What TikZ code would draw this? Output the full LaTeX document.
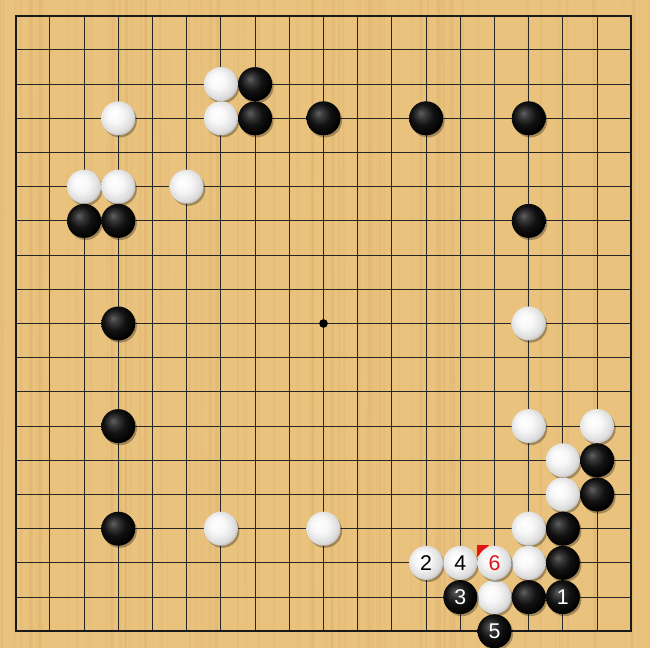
\documentclass[tikz,border=0pt]{standalone}
\usepackage{fontspec}
\setmainfont{Liberation Sans}
\usetikzlibrary{shadows}
\definecolor{boardcol}{RGB}{233,194,126}
\definecolor{graincol}{RGB}{196,150,80}
\definecolor{numred}{RGB}{226,20,20}
\pgfdeclareradialshading{whitestone}{\pgfpoint{-7bp}{7bp}}{color(0bp)=(white); color(12bp)=(white!97!black); color(24bp)=(white!87!black); color(31bp)=(white!72!black); color(50bp)=(white!72!black)}
\pgfdeclareradialshading{blackstone}{\pgfpoint{-8bp}{8bp}}{color(0bp)=(black!62); color(7bp)=(black!78); color(16bp)=(black!93); color(28bp)=(black); color(50bp)=(black)}
\tikzset{
  stonebase/.style={circle, inner sep=0pt, minimum size=25.5pt, draw=none,
    font=\fontsize{16}{17}\selectfont,
    drop shadow={shadow xshift=1.2pt, shadow yshift=-1.6pt, opacity=0.3, fill=black}},
  wstone/.style={stonebase, shading=whitestone, text=black},
  bstone/.style={stonebase, shading=blackstone, text=white},
  gridline/.style={line width=0.85pt, draw=black!85},
}
\newcommand{\gp}[2]{({15.7+#1*34.2},{15.7+#2*34.2})}
\begin{document}
\begin{tikzpicture}[x=0.75pt,y=-0.75pt]
\fill[boardcol] (0,0) rectangle (650,648);
\useasboundingbox (0,0) rectangle (650,648);
% wood grain
\pgfmathsetseed{11}
\foreach \i in {1,...,90} {
  \pgfmathsetmacro\gxx{rnd*650}
  \pgfmathsetmacro\gop{0.04+rnd*0.12}
  \pgfmathsetmacro\glw{0.4+rnd*2.2}
  \draw[graincol, opacity=\gop, line width=\glw pt] (\gxx,0) -- (\gxx+rnd*4-2,648);
}
% grid
\foreach \i in {1,...,17} {
  \draw[gridline] ({15.7+\i*34.2},15.7) -- ({15.7+\i*34.2},631.3);
  \draw[gridline] (15.7,{15.7+\i*34.2}) -- (631.3,{15.7+\i*34.2});
}
\draw[line width=1.3pt, draw=black!90] (15.7,15.7) rectangle (631.3,631.3);
\node[circle, fill=black, inner sep=0pt, minimum size=6.5pt] (star) at \gp{9}{9} {};
% red marker behind stone 6
\fill[numred] (477,545) -- (489,545) -- (477,557) -- cycle;
% white stones
\foreach \c/\r in {6/2,6/3,3/3,2/5,3/5,5/5,15/9,15/12,17/12,16/13,16/14,6/15,9/15,15/15,15/16,14/17} {
  \node[wstone] (w\c-\r) at \gp{\c}{\r} {};
}
% black stones
\foreach \c/\r in {7/2,7/3,9/3,12/3,15/3,2/6,3/6,15/6,3/9,3/12,3/15,17/13,17/14,16/15,16/16,15/17} {
  \node[bstone] (b\c-\r) at \gp{\c}{\r} {};
}
% numbered moves
\node[bstone] (m1) at \gp{16}{17} {1};
\node[wstone] (m2) at \gp{12}{16} {2};
\node[bstone] (m3) at \gp{13}{17} {3};
\node[wstone] (m4) at \gp{13}{16} {4};
\node[bstone] (m5) at \gp{14}{18} {5};
\node[wstone, text=numred] (m6) at \gp{14}{16} {6};
\end{tikzpicture}
\end{document}
